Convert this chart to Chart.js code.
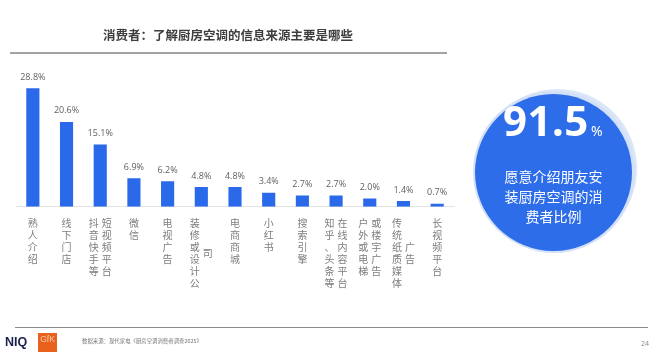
<!DOCTYPE html>
<html>
<head>
<meta charset="utf-8">
<script src="https://cdn.jsdelivr.net/npm/chart.js@4.4.1/dist/chart.umd.min.js"></script>
<style>
  html, body { margin:0; padding:0; background:#fff; }
  body { width:660px; height:358px; position:relative; overflow:hidden; font-family:"Noto Sans CJK SC","Noto Sans",sans-serif; }
  #c { position:absolute; left:0; top:0; }
  .abs { position:absolute; white-space:nowrap; }
  #title { left:103px; top:26px; font-size:12.5px; font-weight:700; color:#3d3d3d; line-height:18px; }
  #tline { left:10px; top:52px; width:437px; height:1.5px; background:#a3a3a3; }
  #fline { left:15px; top:326.5px; width:633px; height:1.5px; background:#8c8c8c; }
  #ring2 { left:478px; top:88.5px; width:159px; height:159px; border-radius:50%; background:#dbe6f8; }
  #ring { left:472.5px; top:91px; width:162px; height:162px; border-radius:50%; background:#d3e0f7; }
  #circle { left:475px; top:93.5px; width:157px; height:157px; border-radius:50%; background:#2d6de9; }
  #big { left:503px; top:96px; font-family:"Noto Sans","Open Sans",sans-serif; font-weight:700; font-size:42px; line-height:48px; color:#fff; letter-spacing:0.5px; }
  #big span { font-size:14px; font-weight:400; letter-spacing:0; margin-left:2px; }
  #ctext { left:475px; width:157px; top:166px; text-align:center; color:#fff; font-size:14px; line-height:20px; white-space:normal; }
  #niq { left:5px; top:335px; font-family:"Liberation Sans","Noto Sans",sans-serif; font-weight:700; font-size:12.5px; color:#1b1f4b; line-height:15px; }
  #gfk { left:38px; top:333px; width:19px; height:19px; background:#e8621e; color:#f7c9ad; font-family:"Liberation Sans",sans-serif; font-size:8.5px; line-height:12px; text-align:center; }
  #src { left:82px; top:337px; font-size:5.4px; color:#777; line-height:8px; }
  #page { left:641px; top:339px; font-family:"Noto Sans",sans-serif; font-size:7px; color:#8a8a8a; line-height:10px; }
</style>
</head>
<body>
<canvas id="c" width="660" height="358"></canvas>
<div class="abs" id="title">消费者：了解厨房空调的信息来源主要是哪些</div>
<div class="abs" id="tline"></div>
<div class="abs" id="ring2"></div>
<div class="abs" id="ring"></div>
<div class="abs" id="circle"></div>
<div class="abs" id="big">91.5<span>%</span></div>
<div class="abs" id="ctext">愿意介绍朋友安<br>装厨房空调的消<br>费者比例</div>
<div class="abs" id="fline"></div>
<div class="abs" id="niq">NIQ</div>
<div class="abs" id="gfk">GfK</div>
<div class="abs" id="src">数据来源：现代家电《厨房空调消费者调查2025》</div>
<div class="abs" id="page">24</div>
<script>
// ---- data ----
const labelColumns = [
  ["熟人介绍"],
  ["线下门店"],
  ["抖音快手等", "短视频平台"],
  ["微信"],
  ["电视广告"],
  ["装修或设计公", "司"],
  ["电商商城"],
  ["小红书"],
  ["搜索引擎"],
  ["知乎、头条等", "在线内容平台"],
  ["户外或电梯", "或楼宇广告"],
  ["传统纸质媒体", "广告"],
  ["长视频平台"]
];
const categories = labelColumns.map(c => c.join(""));
const shares = [28.8, 20.6, 15.1, 6.9, 6.2, 4.8, 4.8, 3.4, 2.7, 2.7, 2.0, 1.4, 0.7];

// ---- plugins ----
const valueLabels = {
  id: "valueLabels",
  afterDatasetsDraw(chart) {
    const ctx = chart.ctx;
    const meta = chart.getDatasetMeta(0);
    ctx.save();
    ctx.font = "9px 'Open Sans', 'Noto Sans', sans-serif";
    ctx.fillStyle = "#5f5f5f";
    ctx.textAlign = "center";
    ctx.textBaseline = "middle";
    meta.data.forEach((bar, i) => {
      ctx.fillText(shares[i].toFixed(1) + "%", bar.x, bar.y - 11);
    });
    ctx.restore();
  }
};
const verticalTicks = {
  id: "verticalTicks",
  afterDraw(chart) {
    const ctx = chart.ctx;
    const xs = chart.scales.x;
    const top = chart.chartArea.bottom + 16.5;
    const step = 12, colGap = 13;
    ctx.save();
    ctx.font = "10px 'Noto Sans CJK SC', sans-serif";
    ctx.fillStyle = "#7d7d7d";
    ctx.textAlign = "center";
    ctx.textBaseline = "middle";
    labelColumns.forEach((cols, i) => {
      const cx = xs.getPixelForValue(i);
      const maxRows = Math.max(...cols.map(c => c.length));
      cols.forEach((col, c) => {
        const x = cx + (c - (cols.length - 1) / 2) * colGap;
        const start = (maxRows - col.length) / 2;
        Array.from(col).forEach((ch, r) => {
          ctx.fillText(ch, x, top + (start + r) * step);
        });
      });
    });
    ctx.restore();
  }
};

new Chart(document.getElementById("c"), {
  type: "bar",
  data: {
    labels: categories,
    datasets: [{
      data: shares,
      backgroundColor: "#2a69ea",
      barPercentage: 0.39,
      categoryPercentage: 1
    }]
  },
  options: {
    responsive: false,
    animation: false,
    devicePixelRatio: 1,
    layout: { padding: { left: 16, right: 206, top: 75, bottom: 151.3 } },
    plugins: { legend: { display: false }, tooltip: { enabled: false } },
    scales: {
      x: {
        ticks: { display: false },
        grid: { display: false, drawTicks: false },
        border: { display: true, color: "#e3e3e3", width: 1 }
      },
      y: { display: false, min: 0, max: 32 }
    }
  },
  plugins: [valueLabels, verticalTicks]
});
</script>
</body>
</html>
